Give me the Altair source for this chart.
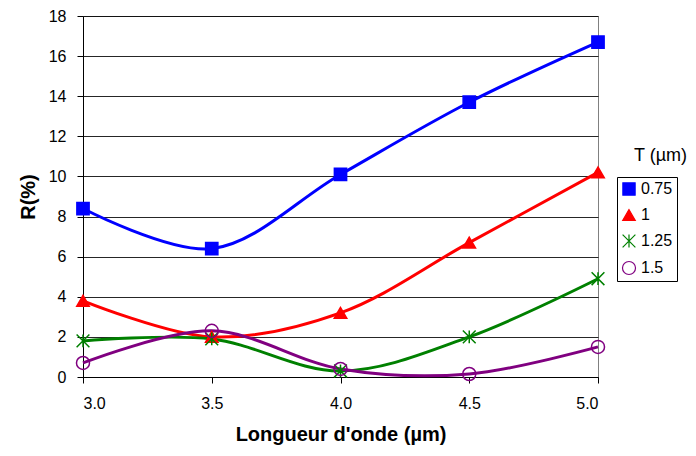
import altair as alt
import pandas as pd

wavelength = [3.0, 3.5, 4.0, 4.5, 5.0]
series = ["0.75", "1", "1.25", "1.5"]
r_075 = [8.4, 6.4, 10.1, 13.7, 16.7]
r_1 = [3.8, 2.0, 3.2, 6.7, 10.2]
r_125 = [1.8, 1.9, 0.3, 2.0, 4.9]
r_15 = [0.7, 2.3, 0.4, 0.15, 1.5]
y_ticks = [0, 2, 4, 6, 8, 10, 12, 14, 16, 18]

colors = ["#0000FF", "#FF0000", "#008000", "#800080"]
shapes = ["square", "triangle-up", "M-1,-1L1,1M-1,1L1,-1M0,-1L0,1", "circle"]
fills = ["#0000FF", "#FF0000", "transparent", "transparent"]
sizes = [150, 170, 90, 90]

rows = []
for name, vals in zip(series, [r_075, r_1, r_125, r_15]):
    for w, v in zip(wavelength, vals):
        rows.append({"wl": w, "r": v, "T": name})
df = pd.DataFrame(rows)

font = "Liberation Sans"

leg = alt.Legend(
    title=None, orient="none", legendX=534, legendY=161,
    strokeColor="black", padding=4,
    labelFont=font, labelFontSize=16, labelColor="black", symbolStrokeWidth=1.2,
    rowPadding=9, labelOffset=4,
)

x = alt.X("wl:Q", scale=alt.Scale(domain=[3, 5], nice=False, zero=False),
          axis=alt.Axis(title="Longueur d'onde (µm)", values=wavelength, format=".1f",
                        grid=False, tickSize=6, labelPadding=12, titlePadding=13))
y = alt.Y("r:Q", scale=alt.Scale(domain=[0, 18], nice=False),
          axis=alt.Axis(title="R(%)", values=y_ticks, grid=True, gridColor="black",
                        gridOpacity=0.85, tickSize=6, labelPadding=11, titlePadding=10))

stroke_enc = alt.Stroke("T:N", scale=alt.Scale(domain=series, range=colors), legend=leg)

base = alt.Chart(df)
lines = base.mark_line(strokeWidth=3, interpolate="catmull-rom").encode(
    x=x, y=y, stroke=stroke_enc, detail="T:N")
points = base.mark_point(filled=False, strokeWidth=1.5, opacity=1).encode(
    x=x, y=y, stroke=stroke_enc,
    fill=alt.Fill("T:N", scale=alt.Scale(domain=series, range=fills), legend=leg),
    shape=alt.Shape("T:N", scale=alt.Scale(domain=series, range=shapes), legend=leg),
    size=alt.Size("T:N", scale=alt.Scale(domain=series, range=sizes), legend=leg),
)

chart = alt.layer(lines, points).properties(
    width=515, height=361,
    autosize=alt.AutoSizeParams(type="none"),
    padding={"left": 75, "top": 8, "right": 90, "bottom": 71},
    background="white",
    title=alt.TitleParams("T (µm)", anchor="start", frame="group", dx=551, dy=161,
                          fontSize=18, fontWeight="normal", font=font, color="black"),
).configure_view(stroke="#808080", strokeWidth=1).configure_axis(
    labelFont=font, labelFontSize=16, labelColor="black",
    titleFont=font, titleFontSize=20, titleFontWeight="bold", titleColor="black",
    domainColor="black", tickColor="black",
)

chart.save("out.html", embed_options={"renderer": "svg", "actions": False})
